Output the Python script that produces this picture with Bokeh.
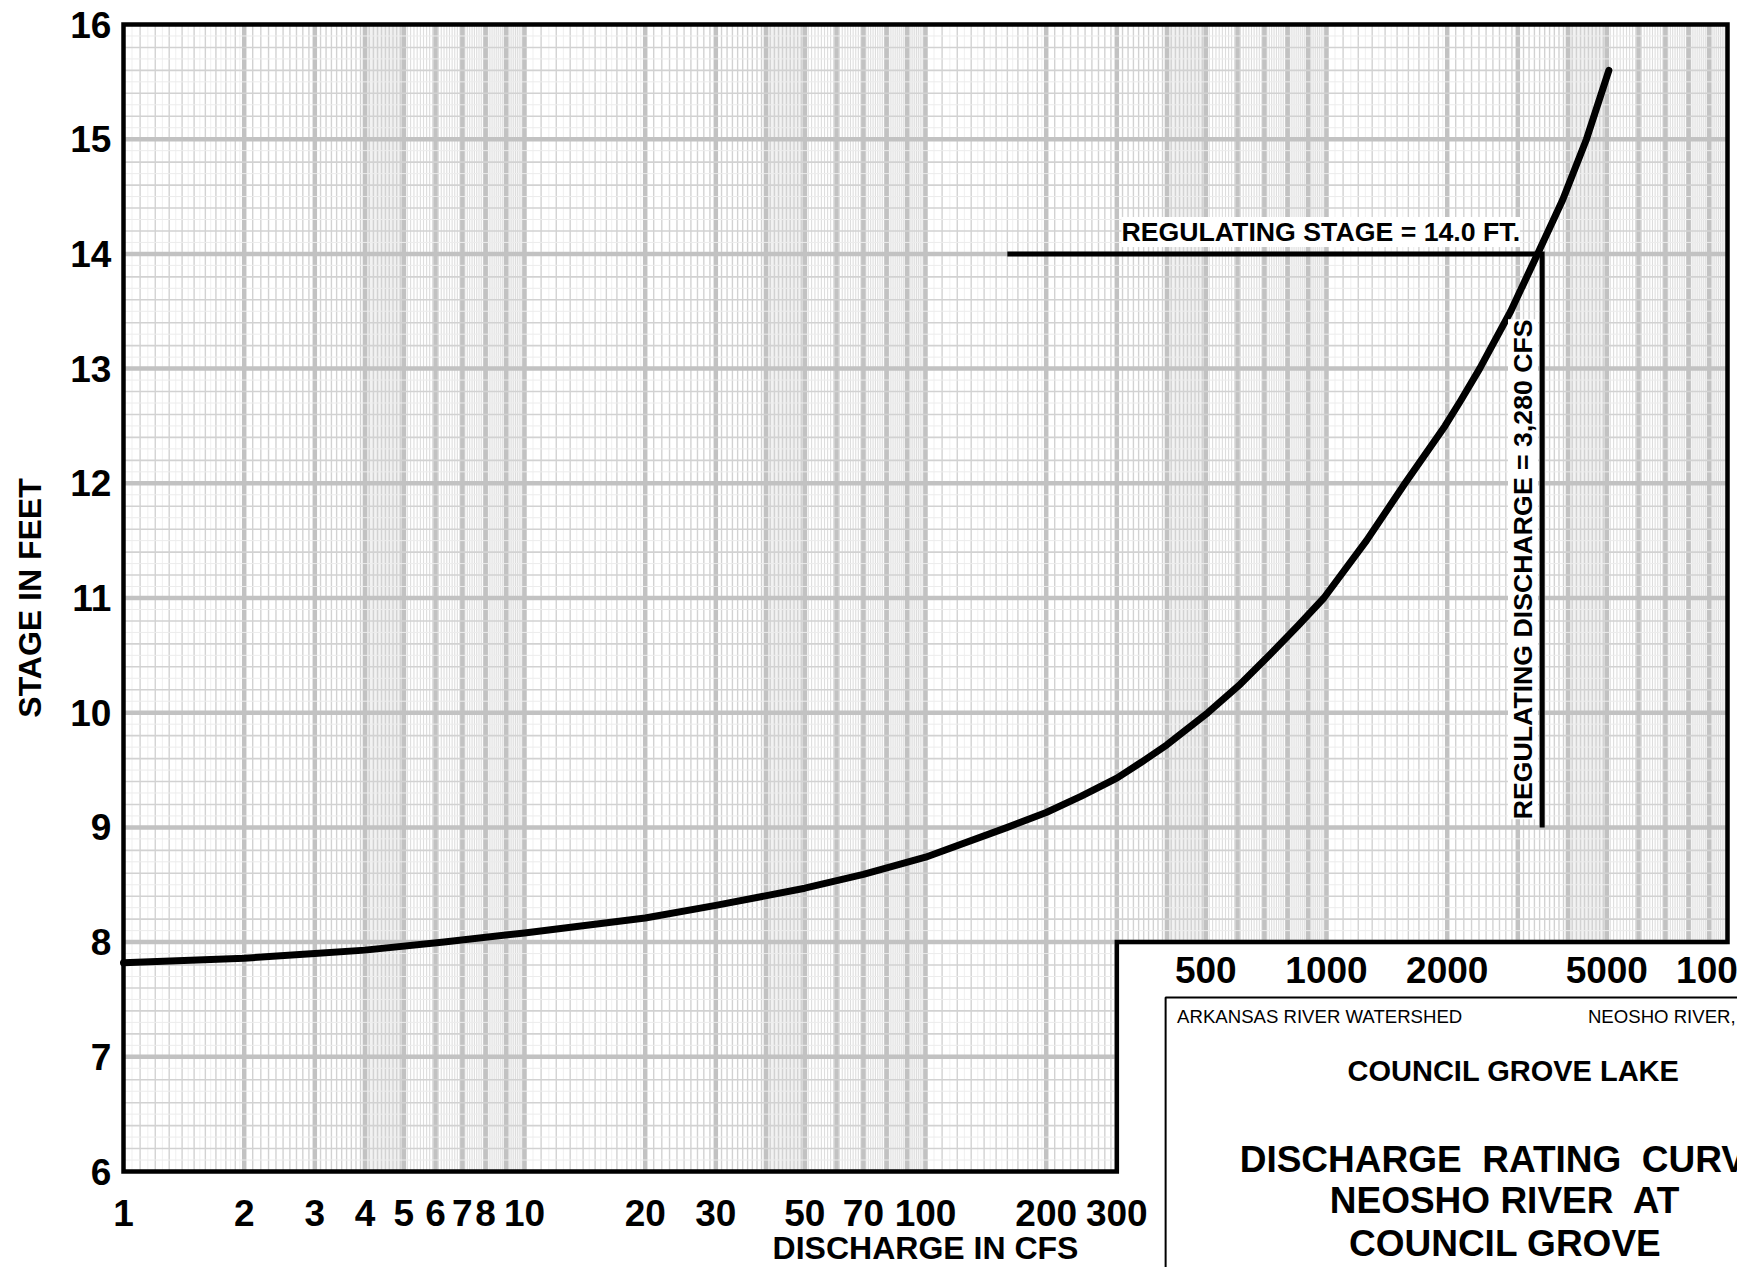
import numpy as np
from bokeh.plotting import figure
from bokeh.models import Range1d, Label
from bokeh.core.properties import value
from bokeh.embed import file_html
from bokeh.resources import INLINE

# ---------------- data ----------------
discharge_cfs = [1, 2, 3, 4, 6.3, 10, 20, 30, 50, 70, 100, 160, 200, 244, 300, 346,
                 400, 506, 610, 720, 850, 985, 1258, 1570, 1975, 2160, 2410, 2880,
                 3360, 3880, 4450, 5060]
stage_ft = [7.82, 7.86, 7.90, 7.93, 8.00, 8.08, 8.21, 8.32, 8.47, 8.59, 8.74, 9.00,
            9.13, 9.27, 9.43, 9.57, 9.72, 10.00, 10.25, 10.50, 10.76, 11.00, 11.50,
            12.00, 12.50, 12.72, 13.00, 13.50, 14.00, 14.47, 15.00, 15.60]
bottom_tick_values = [1, 2, 3, 4, 5, 6, 7, 8, 10, 20, 30, 50, 70, 100, 200, 300]
inset_tick_values = [500, 1000, 2000, 5000, 10000]
stage_tick_values = [6, 7, 8, 9, 10, 11, 12, 13, 14, 15, 16]
regulating_stage = 14.0
regulating_discharge_text = "3,280"
regulating_line_q = 3450      # where the vertical line is drawn on the sheet
regulating_line_from_q = 160
regulating_line_to_stage = 9.0

# ---------------- geometry ----------------
W, H = 1737, 1267
X0, PX_DEC = 123.0, 401.0     # x=1 at this pixel, pixels per decade
Y16, PX_FT = 24.0, 114.7      # y=16 at this pixel, pixels per foot
x_lo = 10 ** (-X0 / PX_DEC)
x_hi = 10 ** ((W - X0) / PX_DEC)
y_hi = 16 + Y16 / PX_FT
y_lo = 16 - (H - Y16) / PX_FT

XMIN, XMAX, YMIN, YMAX = 1, 10000, 6, 16
NOTCH_X, NOTCH_Y = 300, 8

p = figure(width=W, height=H, x_axis_type="log", title=None,
           x_range=Range1d(x_lo, x_hi), y_range=Range1d(y_lo, y_hi),
           x_axis_location=None, y_axis_location=None,
           output_backend="svg", toolbar_location=None, min_border=0)
p.grid.visible = False
p.outline_line_color = None
p.background_fill_color = "white"
p.border_fill_color = "white"

# ---------------- log-paper grid ----------------
thick_v, med_v, light_v, fine_v = [], [], [], []
for d in [1, 10, 100, 1000]:
    for k in range(2, 11):
        thick_v.append(k * d)
    for k in range(1, 10):
        if k < 5:
            med_v += [(k + j / 10) * d for j in range(1, 10)]
        else:
            light_v += [(k + j / 10) * d for j in range(1, 10)]
        if k == 1:
            fine_v += [(k + 0.05 + j / 10) * d for j in range(10)]
        if k == 4:
            fine_v += [(k + j / 50) * d for j in range(1, 50) if j % 5]

def vsegs(xs):
    xs = [x for x in xs if XMIN < x < XMAX]
    return xs, [NOTCH_Y if x > NOTCH_X else YMIN for x in xs], [YMAX] * len(xs)

def hsegs(ys):
    ys = [y for y in ys if YMIN < y < YMAX]
    return ys, [XMIN] * len(ys), [XMAX if y >= NOTCH_Y else NOTCH_X for y in ys]

thick_h = [float(v) for v in range(7, 16)]
med_h = [v / 5 for v in range(31, 80) if v % 5]
fine_h = [round(v / 10, 2) for v in range(61, 160, 2)]

for xs_, col, lw in [(fine_v, "#efefef", 1), (light_v, "#dddddd", 1.1),
                     (med_v, "#d2d2d2", 1.4), (thick_v, "#c2c2c2", 4.5)]:
    xs, y0, y1 = vsegs(xs_)
    p.segment(x0=xs, x1=xs, y0=y0, y1=y1, line_color=col, line_width=lw)
for ys_, col, lw in [(fine_h, "#ececec", 1), (med_h, "#d2d2d2", 1.6), (thick_h, "#c2c2c2", 4.5)]:
    ys, x0, x1 = hsegs(ys_)
    p.segment(x0=x0, x1=x1, y0=ys, y1=ys, line_color=col, line_width=lw)

# ---------------- title block (lower right) ----------------
p.quad(left=397, right=1e6, bottom=0.1, top=7.517, fill_color="white",
       line_color="black", line_width=2)

# ---------------- sheet border with notch ----------------
p.line(x=[XMIN, XMAX, XMAX, NOTCH_X, NOTCH_X, XMIN, XMIN, XMAX],
       y=[YMAX, YMAX, NOTCH_Y, NOTCH_Y, YMIN, YMIN, YMAX, YMAX],
       line_color="black", line_width=4.5, line_join="miter")

# ---------------- rating curve ----------------
p.line(discharge_cfs, stage_ft, line_color="black", line_width=7,
       line_cap="round", line_join="round")

# ---------------- regulating lines ----------------
p.line(x=[regulating_line_from_q, regulating_line_q, regulating_line_q],
       y=[regulating_stage, regulating_stage, regulating_line_to_stage],
       line_color="black", line_width=5, line_join="miter")

FONT = "Liberation Sans"
BOLD = dict(text_font=value(FONT), text_font_style="bold", text_color="black")
TICKFONT = dict(BOLD, text_font_size="37px")

# tick labels
p.text(x=[0.933] * len(stage_tick_values), y=stage_tick_values,
       text=[str(v) for v in stage_tick_values], text_align="right",
       text_baseline="middle", **TICKFONT)
p.text(x=bottom_tick_values, y=[5.634] * len(bottom_tick_values),
       text=[str(v) for v in bottom_tick_values], text_align="center",
       text_baseline="middle", **TICKFONT)
p.text(x=inset_tick_values, y=[7.761] * len(inset_tick_values),
       text=[str(v) for v in inset_tick_values], text_align="center",
       text_baseline="middle", **TICKFONT)

# axis titles
p.text(x=[100], y=[5.33], text=["DISCHARGE IN CFS"], text_align="center",
       text_baseline="middle", text_font_size="32px", **BOLD)
p.text(x=[0.583], y=[11.0], text=["STAGE IN FEET"], angle=np.pi / 2,
       text_align="center", text_baseline="middle", text_font_size="32px", **BOLD)

# title block texts
p.text(x=[424], y=[7.351], text=["ARKANSAS RIVER WATERSHED"], text_align="left",
       text_baseline="middle", text_font_size="18.6px",
       text_font=value(FONT), text_color="black")
p.text(x=[4487], y=[7.351], text=["NEOSHO RIVER,"], text_align="left",
       text_baseline="middle", text_font_size="18.6px",
       text_font=value(FONT), text_color="black")
p.text(x=[2926], y=[6.872], text=["COUNCIL GROVE LAKE"], text_align="center",
       text_baseline="middle", text_font_size="29px", **BOLD)
p.text(x=[2790, 2790, 2790], y=[6.105, 5.747, 5.372],
       text=["DISCHARGE\u00a0 RATING\u00a0 CURVE", "NEOSHO RIVER\u00a0 AT", "COUNCIL GROVE"],
       text_align="center", text_baseline="middle", text_font_size="37px", **BOLD)

# regulating annotations
p.add_layout(Label(x=308, y=14.19, text="REGULATING STAGE = 14.0 FT.",
                   text_font=FONT, text_font_style="bold", text_color="black",
                   text_font_size="26.7px", text_baseline="middle", text_align="left",
                   background_fill_color="white"))
p.add_layout(Label(x=3090, y=11.25,
                   text="REGULATING DISCHARGE = " + regulating_discharge_text + " CFS",
                   angle=np.pi / 2, text_font=FONT, text_font_style="bold",
                   text_color="black", text_font_size="26.7px", text_baseline="middle",
                   text_align="center", background_fill_color="white"))

open("out.html", "w").write(file_html(p, INLINE))
